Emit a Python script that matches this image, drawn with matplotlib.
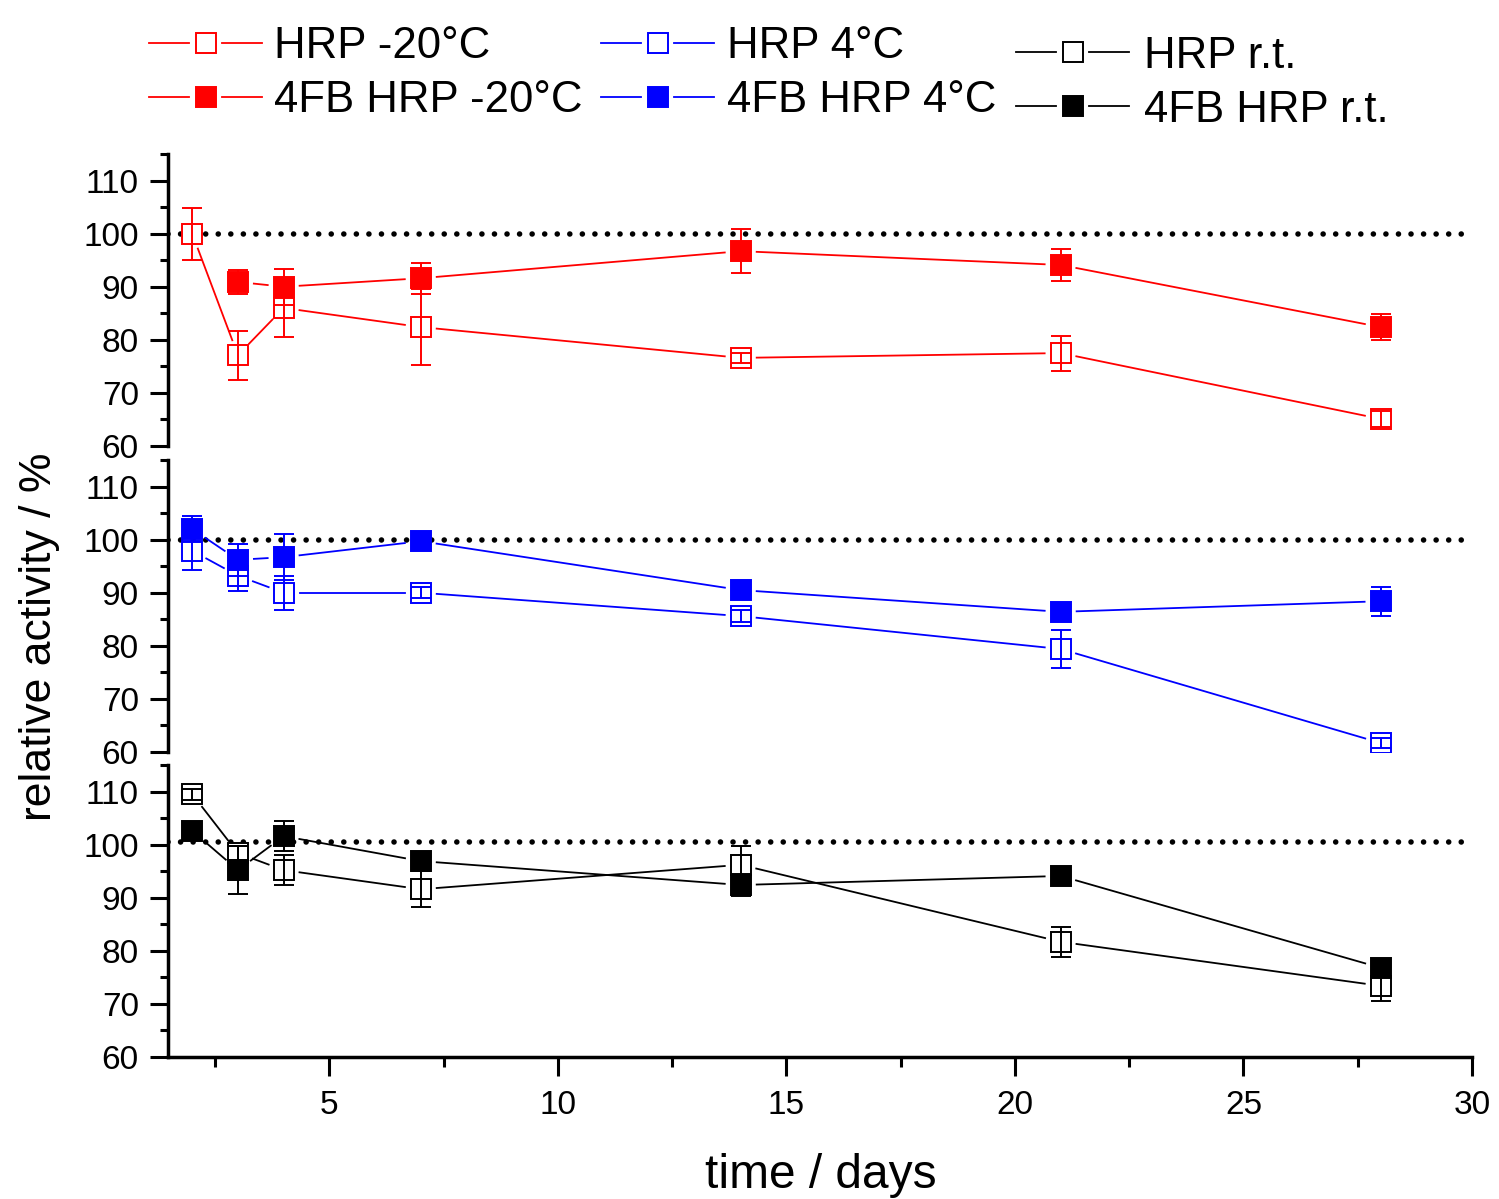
import numpy as np
import matplotlib
matplotlib.use('Agg')
import matplotlib.pyplot as plt
from matplotlib.lines import Line2D
from matplotlib.ticker import MultipleLocator

plt.rcParams['font.family'] = ['Liberation Sans', 'DejaVu Sans']

# data
days = [2, 3, 4, 7, 14, 21, 28]
nan = np.nan

hrp_m20 = [100.0, 77.1, 86.0, 82.4, 76.6, 77.5, 65.1]
hrp_m20_err = [4.9, 4.6, 5.5, 7.1, 1.0, 3.3, 1.5]
fb_m20 = [nan, 90.9, 90.0, 91.6, 96.7, 94.1, 82.4]
fb_m20_err = [nan, 2.3, 3.4, 2.9, 4.2, 3.1, 2.5]

hrp_4 = [97.9, 93.2, 90.0, 90.0, 85.6, 79.4, 61.7]
hrp_4_err = [3.6, 2.8, 3.2, 1.0, 1.2, 3.5, 1.0]
fb_4 = [102.0, 96.2, 96.7, 99.7, 90.5, 86.4, 88.4]
fb_4_err = [2.4, 3.0, 4.3, 1.0, 1.0, 1.5, 2.7]

hrp_rt = [109.5, 98.4, 95.2, 91.6, 96.2, 81.7, 73.4]
hrp_rt_err = [1.0, 1.3, 2.8, 3.4, 3.5, 2.8, 2.8]
fb_rt = [102.6, 95.2, 101.6, 96.9, 92.4, 94.1, 76.8]
fb_rt_err = [1.0, 4.5, 2.8, 1.0, 2.0, 1.5, 1.0]

ref_levels = [100, 100, 100.5]

panels = [
    ('red', 'HRP -20°C', hrp_m20, hrp_m20_err, '4FB HRP -20°C', fb_m20, fb_m20_err),
    ('blue', 'HRP 4°C', hrp_4, hrp_4_err, '4FB HRP 4°C', fb_4, fb_4_err),
    ('black', 'HRP r.t.', hrp_rt, hrp_rt_err, '4FB HRP r.t.', fb_rt, fb_rt_err),
]

W, H = 1499, 1199
fig = plt.figure(figsize=(W / 100, H / 100), dpi=100)

def fx(px):
    return px / W

def fy(py):
    return 1 - py / H

left, right = 168, 1472
tops = [154, 460, 765]
h = 292

ms = 14
mew = 1.4
lw = 1.3
gap = 16  # px cut from each end of a connecting segment (Origin style)


def gapped_line(ax, xs, ys, color):
    # connect points with short gaps next to the markers
    pts = ax.transData.transform(np.column_stack([xs, ys]))
    inv = ax.transData.inverted()
    for a, b in zip(pts[:-1], pts[1:]):
        if np.isnan(a).any() or np.isnan(b).any():
            continue
        d = b - a
        n = np.hypot(*d)
        if n <= 2 * gap:
            continue
        u = d / n
        seg = inv.transform(np.array([a + u * gap, b - u * gap]))
        ax.plot(seg[:, 0], seg[:, 1], '-', color=color, lw=lw, zorder=1.5)


axes = []
for i, (col, lab1, y1, e1, lab2, y2, e2) in enumerate(panels):
    t = tops[i]
    ax = fig.add_axes([fx(left), fy(t + h), fx(right - left), h / H])
    axes.append(ax)
    ax.set_xlim(1.47, 30)
    ax.set_ylim(60, 115)

    ax.axhline(ref_levels[i], color='black', lw=4, linestyle=(0, (0.01, 2.25)),
               dash_capstyle='round', zorder=1)

    gapped_line(ax, days, y1, col)
    gapped_line(ax, days, y2, col)

    # open squares first, filled on top
    ax.plot(days, y1, 'none', marker='s', ms=ms, mew=mew,
            mfc='white', mec=col, zorder=2)
    ax.errorbar(days, y1, yerr=e1, fmt='none', ecolor=col, elinewidth=mew,
                capsize=7, capthick=mew, zorder=2.5)
    ax.plot(days, y2, 'none', marker='s', ms=ms, mew=mew,
            mfc=col, mec=col, zorder=3)
    ax.errorbar(days, y2, yerr=e2, fmt='none', ecolor=col, elinewidth=mew,
                capsize=7, capthick=mew, zorder=3.5)

    ax.set_yticks(np.arange(60, 111, 10))
    ax.set_yticks(np.arange(65, 116, 10), minor=True)
    ax.tick_params(axis='y', which='major', direction='out', length=13, width=2.2,
                   labelsize=24, pad=8)
    ax.tick_params(axis='y', which='minor', direction='out', length=6, width=2.2)
    for s in ['top', 'right']:
        ax.spines[s].set_visible(False)
    ax.spines['left'].set_linewidth(2.5)
    ax.patch.set_alpha(0)
    if i < 2:
        ax.spines['bottom'].set_visible(False)
        ax.tick_params(axis='x', which='both', bottom=False, labelbottom=False)
    else:
        ax.spines['bottom'].set_linewidth(2.5)
        ax.set_xticks([5, 10, 15, 20, 25, 30])
        ax.xaxis.set_minor_locator(MultipleLocator(2.5))
        ax.tick_params(axis='x', which='major', direction='out', length=13.5,
                       width=2.2, labelsize=24, pad=10)
        ax.tick_params(axis='x', which='minor', direction='out', length=7, width=2.2)

# axis labels
fig.text(fx(40), fy(637), 'relative activity / %', rotation=90, fontsize=32,
         ha='center', va='center')
fig.text(fx(821), fy(1188), 'time / days', fontsize=34.5, ha='center', va='baseline')

# legend drawn by hand in three columns
leg_cols = [
    (149, 274, [43, 97]),
    (601, 727, [43, 97]),
    (1016, 1144, [52, 106]),
]
for (x0, xt, rows), p in zip(leg_cols, panels):
    col = p[0]
    entries = [(p[1], 'white'), (p[4], col)]
    for ry, (lab, fc) in zip(rows, entries):
        fig.add_artist(Line2D([fx(x0), fx(x0 + 40)], [fy(ry), fy(ry)], color=col, lw=lw))
        fig.add_artist(Line2D([fx(x0 + 73), fx(x0 + 113)], [fy(ry), fy(ry)], color=col, lw=lw))
        fig.add_artist(Line2D([fx(x0 + 56.5)], [fy(ry)], marker='s', ms=ms, mew=mew,
                              mfc=fc, mec=col, ls='none'))
        fig.text(fx(xt), fy(ry + 15.5), lab, fontsize=31.5, ha='left', va='baseline')

fig.savefig('out.png', dpi=100)
